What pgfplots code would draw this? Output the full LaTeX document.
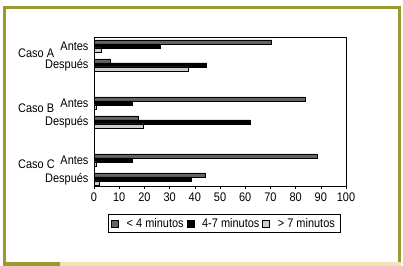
\documentclass[border=0pt]{standalone}
\usepackage{pgfplots}
\pgfplotsset{compat=1.18}
\usepackage{fontspec}
\setmainfont{Liberation Sans}[FakeStretch=0.88]
\definecolor{olive}{RGB}{154,154,46}
\definecolor{lightstrip}{RGB}{236,230,180}
\definecolor{dgray}{RGB}{100,100,100}
\definecolor{lgray}{RGB}{205,205,205}
\newcommand{\fs}{\fontsize{12.5}{13}\selectfont}
\begin{document}
\begin{tikzpicture}[x=1bp,y=1bp]
\useasboundingbox (0,0) rectangle (403,266);
\fill[white] (0,0) rectangle (403,266);
% frame
\fill[olive] (3,4) rectangle (6,259);
\fill[olive] (3,257) rectangle (401,260);
\fill[olive] (398,4) rectangle (401,260);
\fill[lightstrip] (60,0) rectangle (401,4);
\fill[olive] (3,0) rectangle (60,4);
\begin{axis}[
  at={(94bp,80bp)}, anchor=south west,
  scale only axis, width=252bp, height=149bp,
  xbar, bar width=4bp,
  xmin=0, xmax=100, ymin=-0.37, ymax=7.47,
  xtick={0,10,...,100},
  ytick={0,1,3,4,6,7},
  yticklabels={Después,Antes,Después,Antes,Después,Antes},
  ytick style={draw=none},
  xtick align=outside, major tick length=3bp,
  xtick pos=bottom,
  axis line style={line width=0.8pt},
  tick style={black, line width=0.6pt},
  /pgf/number format/assume math mode=true,
  ticklabel style={font=\fs},
  xticklabel style={yshift=-0.5bp},
  yticklabel style={xshift=1bp},
  legend style={at={(0.516,-0.252)}, anchor=center, legend columns=3,
    draw=black, line width=0.6pt, inner xsep=3bp, inner ysep=1.5bp,
    font=\fs,
    /tikz/every even column/.append style={column sep=1bp},
    /tikz/every odd column/.append style={column sep=6bp}},
  legend image code/.code={\draw[#1, line width=0.5pt] (0bp,-3.5bp) rectangle (7bp,3.5bp);},
  legend cell align=left,
]
\addplot[draw=black, line width=0.5pt, fill=dgray, bar shift=4bp] coordinates {
 (70.5,7) (6.6,6) (84,4) (17.6,3) (88.6,1) (44.3,0)};
\addplot[draw=black, line width=0.5pt, fill=black, bar shift=0bp] coordinates {
 (26.2,7) (44.7,6) (15,4) (62,3) (15,1) (38.4,0)};
\addplot[draw=black, line width=0.5pt, fill=lgray, bar shift=-4bp] coordinates {
 (3,7) (37.4,6) (1,4) (19.6,3) (1,1) (2.1,0)};
\legend{< 4 minutos, 4-7 minutos, > 7 minutos}
\end{axis}
\node[anchor=west, font=\fs, inner sep=0] at (18,212.7) {Caso A};
\node[anchor=west, font=\fs, inner sep=0] at (18,157.7) {Caso B};
\node[anchor=west, font=\fs, inner sep=0] at (18,101.7) {Caso C};
\end{tikzpicture}
\end{document}
